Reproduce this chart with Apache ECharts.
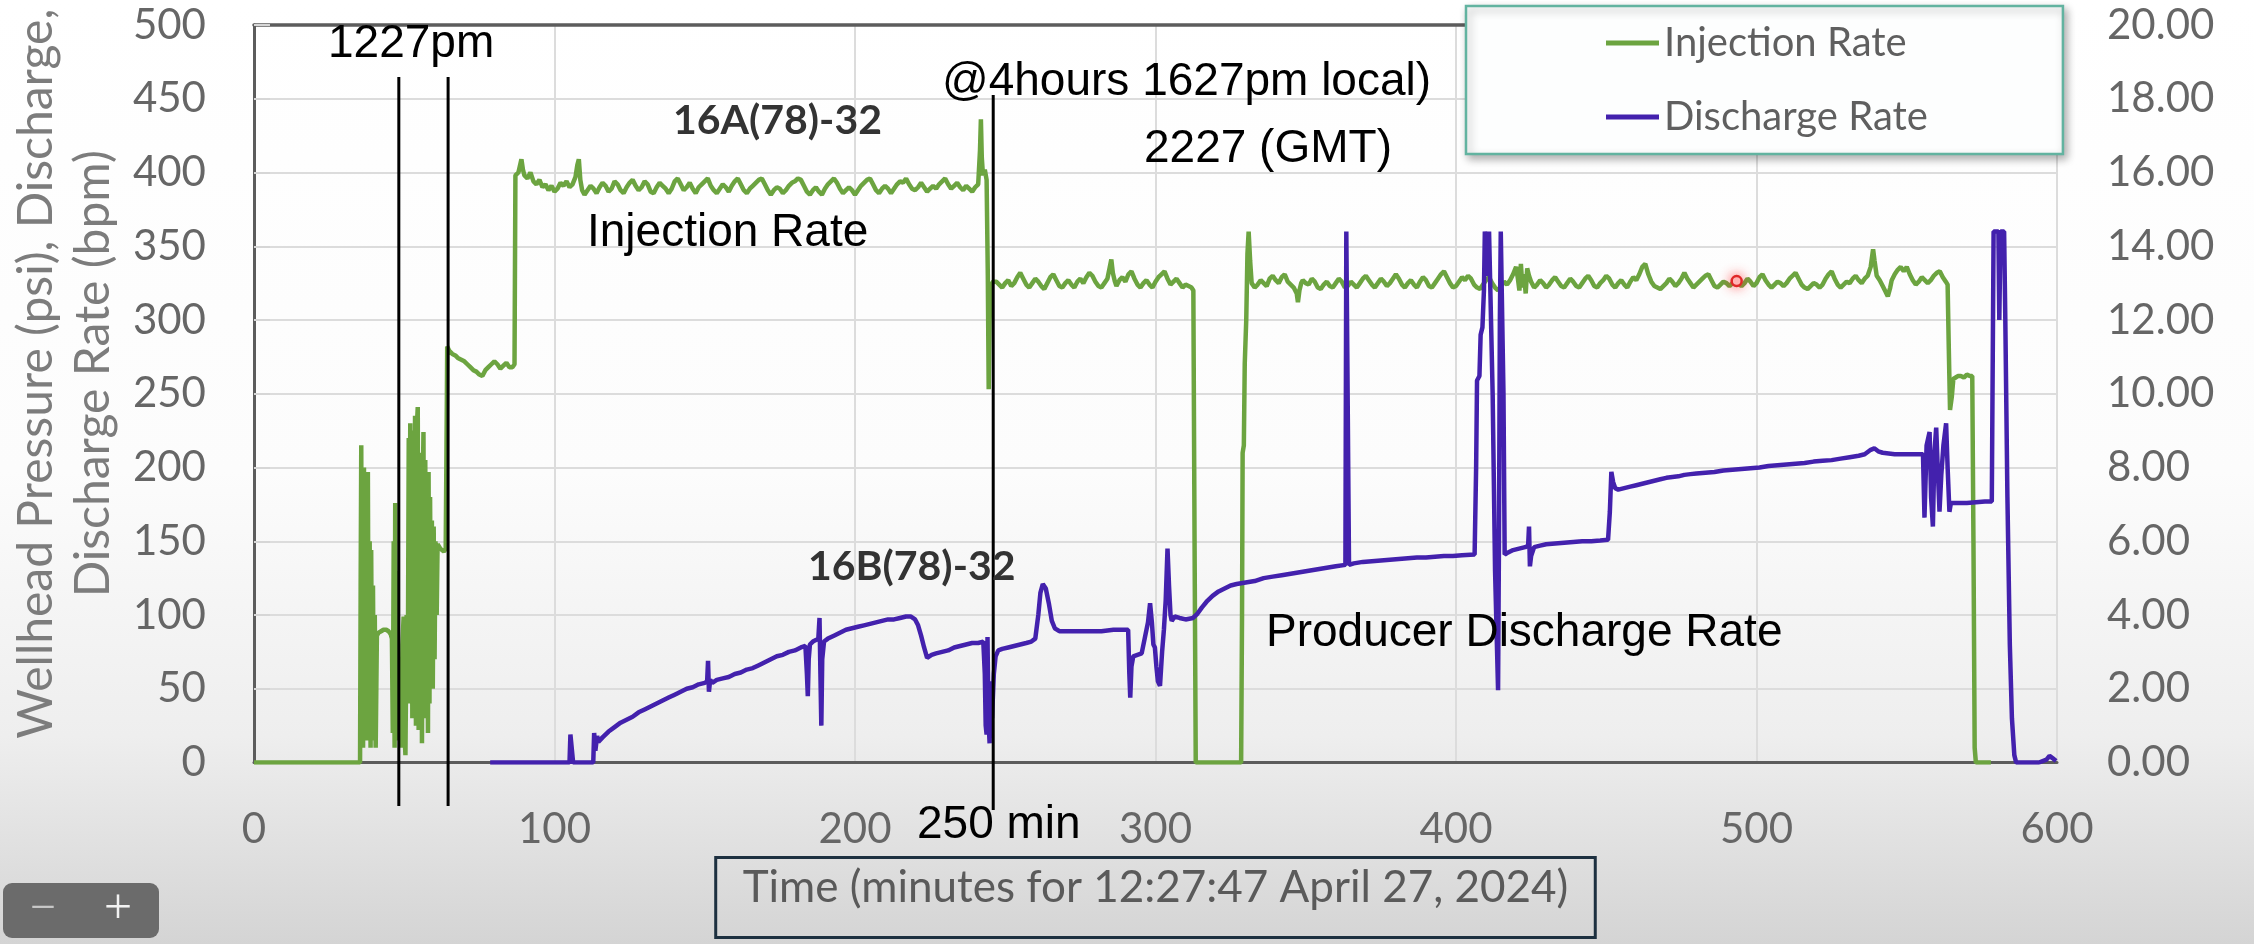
<!DOCTYPE html>
<html><head><meta charset="utf-8">
<script src="https://cdn.jsdelivr.net/npm/echarts@6/dist/echarts.min.js"></script>
<style>html,body{margin:0;padding:0;background:#fff}#c{width:2254px;height:944px}</style>
</head><body><div id="c"></div>
<script>
// ---- data (minutes, rate in left-axis units) ----
const xRange = [0, 600, 100];
const leftRange = [0, 500, 50];
const rightRange = [0, 20, 2];

const injectionRate = [
[0,0],[35.3,0],[35.5,120],[35.7,215],[35.9,40],[36.1,190],[36.3,10],[36.6,200],[36.9,30],[37.2,170],[37.5,15],[37.9,197],[38.2,20],[38.5,150],[38.8,10],[39.0,144],[39.3,30],[39.6,120],[39.9,15],[40.2,100],[40.5,10],[40.9,86],[41.5,88],[42.3,89],[43.1,90],[44.0,90],[44.8,89],[45.5,87],[45.9,84],[46.2,20],[46.5,150],[46.8,10],[47.0,176],[47.3,20],[47.6,130],[48.0,15],[48.5,60],[49.0,10],[49.4,80],[49.8,99],[50.1,20],[50.4,5],[50.8,100],[51.2,60],[51.5,220],[51.7,40],[52.0,230],[52.2,60],[52.4,225],[52.7,30],[53.0,215],[53.3,50],[53.6,235],[53.9,25],[54.2,228],[54.5,241],[54.8,22],[55.1,210],[55.4,40],[55.7,200],[55.9,13],[56.2,190],[56.4,224],[56.7,30],[57.0,205],[57.3,45],[57.6,185],[57.9,20],[58.1,197],[58.4,40],[58.6,180],[58.9,60],[59.2,164],[59.5,50],[59.8,160],[60.1,70],[60.4,150],[60.8,100],[61.1,148],[61.4,147],[62.0,145],[62.5,144],[63.2,143],[63.8,145],[64.1,146],[64.2,250],[64.3,282],
[65,279],[66,277],[67,276],[68,274],[69,273],[70,272],[71,270],[72,268],[73,266],[74,265],[75,263],[76,262],[77,266],[78,268],[79,270],[80,272],[81,270],[82,267],[83,269],[84,271],[85,268],[86,268],[86.7,270],[87,398],[88,400],[89,409],[89.5,402],
[90,398],[91,396],[92,400],[93,394],[94,392],[95,395],[96,390],[97,392],[98,388],[99,391],[100,387],[101,389],[102,393],[103,391],[104,394],[105,390],[106,392],[107,397],[107.6,405],[108.1,409],[108.6,395],[109.2,388],[110,385],[111,388],[112,391],[113,389],[114,386],[115,390],[116,393],[117,391],[118,387],[119,389],[120,394],[121,392],[122,388],[123,386],[124,390],[125,393],[126,395],[127,391],[128,388],[129,390],[130,394],[131,392],[132,387],[133,386],[134,390],[135,393],[136,391],[137,389],[138,386],[139,389],[140,394],[141,396],[142,392],[143,388],[144,390],[145,393],[146,389],[147,386],[148,390],[149,392],[150,394],[151,396],[152,391],[153,388],[154,386],[155,389],[156,392],[157,390],[158,387],[159,391],[160,394],[161,396],[162,392],[163,388],[164,386],[165,389],[166,391],[167,393],[168,395],[169,396],[170,392],[171,388],[172,385],[173,388],[174,390],[175,389],[176,386],[177,388],[178,391],[179,393],[180,394],[181,396],[182,395],[183,391],[184,387],[185,385],[186,388],[187,390],[188,387],[189,385],[190,389],[191,392],[192,394],[193,396],[194,393],[195,389],[196,386],[197,388],[198,390],[199,388],[200,385],[201,388],[202,391],[203,393],[204,395],[205,396],[206,392],[207,388],[208,386],[209,389],[210,391],[211,389],[212,386],[213,389],[214,392],[215,394],[216,393],[217,396],[218,392],[219,389],[220,388],[221,390],[222,393],[223,390],[224,387],[225,389],[226,391],[227,389],[228,392],[229,394],[230,396],[231,392],[232,389],[233,391],[234,393],[235,390],[236,388],[237,391],[238,389],[239,387],[240,390],[241,392],[241.6,415],[241.9,436],[242.2,410],[242.6,398],[243.2,402],[243.8,395],[244.2,330],[244.5,253],[244.8,300],[245.3,324],
[246,326],[247,326],[248,324],[249,322],[250,325],[251,327],[252,323],[253,325],[254,329],[255,332],[256,328],[257,324],[258,322],[259,325],[260,328],[261,326],[262,323],[263,321],[264,325],[265,329],[266,331],[267,327],[268,323],[269,322],[270,325],[271,327],[272,324],[273,322],[274,326],[275,328],[276,325],[277,329],[278,332],[279,330],[280,326],[281,323],[282,322],[283,325],[284,328],[284.8,336],[285.3,341],[285.8,332],[286.5,326],[287,323],[288,327],[289,329],[290,326],[291,331],[292,333],[293,328],[294,324],[295,322],[296,325],[297,327],[298,324],[299,322],[300,326],[301,329],[302,331],[303,333],[304,328],[305,324],[306,326],[307,328],[308,325],[309,322],[310,324],[311,323],[312,322],[312.6,320],[313,150],[313.4,0],
[328.5,0],[328.8,100],[329.0,210],[329.4,215],[329.7,270],[330.2,300],[330.6,345],[331.0,360],[331.5,340],[332.0,325],[333,322],[334,324],[335,327],[336,325],[337,323],[338,328],[339,330],[340,327],[341,325],[342,329],[343,331],[344,326],[345,324],[346,322],[347,318],[347.4,312],[347.9,320],[348.5,325],[349,327],[350,325],[351,324],[352,328],[353,326],[354,322],[355,321],[356,324],[357,326],[358,323],[359,322],[360,325],[361,328],[362,326],[363,322],[364,323],[365,326],[366,324],[367,322],[368,325],[369,328],[370,330],[371,327],[372,324],[373,322],[374,325],[375,328],[376,326],[377,323],[378,325],[379,328],[380,331],[381,328],[382,324],[383,322],[384,325],[385,327],[386,324],[387,322],[388,326],[389,329],[390,327],[391,323],[392,322],[393,325],[394,328],[395,331],[396,333],[397,329],[398,325],[399,322],[400,323],[401,326],[402,329],[403,327],[404,330],[405,328],[406,324],[407,322],[408,321],[409,324],[410,327],[411,329],[412,325],[413,322],[414,320],[415,323],[416,326],[417,324],[418,327],[419,331],[420,336],[420.6,328],[421.1,320],[421.6,338],[422.1,322],[422.6,331],[423.2,318],[423.7,335],[424.3,330],[425,326],[426,322],[427,324],[428,327],[429,325],[430,322],[431,324],[432,327],[433,329],[434,326],[435,323],[436,322],[437,325],[438,328],[439,326],[440,323],[441,322],[442,325],[443,328],[444,330],[445,327],[446,323],[447,322],[448,325],[449,327],[450,330],[451,328],[452,324],[453,322],[454,325],[455,327],[456,324],[457,322],[458,326],[459,329],[460,327],[461,331],[462,336],[463,338],[464,331],[465,326],[466,323],[467,322],[468,321],[469,323],[470,325],[471,328],[472,326],[473,323],[474,325],[475,328],[476,332],[477,328],[478,325],[479,322],[480,324],[481,326],[482,328],[483,330],[484,331],[485,327],[486,323],[487,322],[488,324],[489,326],[490,325],[491,323],[492,325],[493,327],[494,325],[495,323],[496,325],[497,328],[498,326],[499,323],[500,325],[501,329],[502,331],[503,327],[504,324],[505,322],[506,324],[507,326],[508,325],[509,323],[510,325],[511,328],[512,330],[513,332],[514,328],[515,324],[516,322],[517,321],[518,323],[519,325],[520,324],[521,322],[522,324],[523,328],[524,331],[525,333],[526,328],[527,324],[528,322],[529,324],[530,326],[531,325],[532,328],[533,330],[534,327],[535,325],[536,328],[537,330],[538,336],[538.8,348],[539.3,340],[540,330],[541,327],[542,323],[543,319],[543.7,316],[544.5,322],[545,327],[546,331],[547,334],[548,336],[549,333],[550,336],[551,331],[552,327],[553,324],[554,326],[555,329],[556,327],[557,325],[558,327],[559,330],[560,332],[561,333],[562,329],[563,326],[563.6,324],[564,280],[564.4,239],[565,248],[565.5,260],[566,261],[567,262],[568,262],[569,261],[570,263],[571,262],[571.8,262],[572.2,150],[572.6,10],[573,0],[578,0]
];

const dischargeRate = [
[78.6,0],[105,0],[105.3,19],[105.8,19],[106.2,0],[112.9,0],[113.2,20],[113.6,8],[114.2,18],[114.6,14],[116,17],[118,21],[120,24],[122,27],[124,29],[126,31],[128,34],[130,36],[132,38],[134,40],[136,42],[138,44],[140,46],[142,48],[144,50],[146,51],[148,53],[150,54],[150.8,55],[151.1,69],[151.4,48],[151.8,56],[152.5,54],[154,56],[156,57],[158,58],[160,60],[162,61],[164,63],[166,64],[168,66],[170,68],[172,70],[174,72],[176,73],[178,75],[180,76],[182,78],[183.5,79],[184,60],[184.3,45],[184.6,70],[185,80],[186,82],[187,83],[187.8,84],[188.2,98],[188.5,60],[188.8,25],[189.1,70],[189.7,82],[191,84],[193,86],[195,88],[197,90],[199,91],[201,92],[203,93],[205,94],[207,95],[209,96],[211,97],[213,97],[215,98],[217,99],[218.5,99],[220,97],[221,93],[222,86],[223,78],[224,71],[224.5,70],[225.5,73],[227,74],[229,75],[231,76],[233,78],[235,79],[237,80],[239,81],[241,81],[242.7,82],[243.2,60],[243.5,25],[243.8,19],[244.1,85],[244.4,30],[244.8,13],[245.2,55],[245.6,30],[246.2,60],[246.8,72],[247.7,76],[249,77],[251,78],[253,79],[255,80],[257,81],[258.7,82],[260,84],[261,100],[261.7,115],[262.5,121],[263.5,118],[264.5,108],[265.5,96],[266.5,91],[268,89],[270,89],[274,89],[278,89],[282,89],[286,90],[290.9,90],[291.3,60],[291.6,44],[292,65],[292.6,72],[294,73],[295.4,74],[296.5,85],[297.5,95],[298.2,108],[298.8,95],[299.3,80],[299.8,78],[300.3,65],[300.8,55],[301.5,52],[302.2,75],[302.8,90],[303.4,110],[304,145],[304.5,120],[305,100],[305.4,96],[306.4,99],[308,98],[310,97],[312.5,98],[314,101],[315.4,105],[317,109],[319,113],[321,116],[323,118],[325,120],[327,121],[330,122],[333,123],[336,125],[339,126],[342,127],[345,128],[348,129],[351,130],[354,131],[357,132],[360,133],[363.2,134],[363.5,360],[364.1,360],[364.4,134],[366,135],[369,136],[372,136.5],[375,137],[378,137.5],[381,138],[384,138.5],[387,139],[390,139],[393,139.5],[396,140],[399,140],[402,140.5],[406.2,141],[406.7,200],[407.0,259],[407.8,262],[408.2,290],[408.8,295],[409.3,320],[409.6,360],[410.2,360],[410.6,330],[411.0,360],[411.5,360],[412.2,250],[413.0,130],[414.0,49],[414.3,150],[414.6,300],[414.9,360],[415.4,360],[415.8,250],[416.2,141],[417,142],[419,144],[421,145],[423,146],[424.0,147],[424.3,160],[424.6,133],[425,140],[426,146],[428,147],[430,148],[433,148.5],[436,149],[439,149.5],[442,150],[445,150],[448,150.5],[450.6,151],[451.2,170],[451.7,197],[452.3,190],[453,186],[454,185],[456,186],[458,187],[460,188],[462,189],[464,190],[466,191],[468,192],[470,193],[472,193.5],[474,194],[476,195],[478,195.5],[480,196],[483,196.5],[486,197],[489,198],[492,198.5],[495,199],[498,199.5],[501,200],[504,201],[507,201.5],[510,202],[513,202.5],[516,203],[519,204],[522,204.5],[525,205],[528,206],[531,207],[534,208],[536,209],[538,212],[539.2,213],[540.5,211],[542,210],[546,209],[550,209],[555.4,209],[555.9,166],[556.6,215],[557.6,224],[558.1,180],[558.7,160],[559.2,210],[559.8,227],[560.3,200],[560.9,170],[561.5,195],[562.2,215],[563.1,230],[563.6,200],[564.2,170],[564.7,176],[567,176],[570,176],[573,176.5],[576,177],[578.3,177],[578.9,360],[580.5,360],[580.8,300],[581.2,360],[582.4,360],[582.8,300],[583.5,180],[584.3,80],[585,30],[585.8,5],[586.4,0],[590,0],[594,0],[596.5,2],[597.5,4.5],[598.5,3],[599.7,1]
];

const annotationLineMinutes = [48.2, 64.6, 246];
const cursorPoint = [493.4, 326.4];

const chart = echarts.init(document.getElementById('c'), null, {renderer: 'canvas'});
const gray = '#666666';
const option = {
  animation: false,
  backgroundColor: {type: 'linear', x: 0, y: 0, x2: 0, y2: 1, colorStops: [
    {offset: 0, color: '#ffffff'}, {offset: 0.5, color: '#fcfcfc'},
    {offset: 0.78, color: '#eeeeee'}, {offset: 1, color: '#d4d4d4'}]},
  grid: {left: 252, right: 197, top: 25, bottom: 176},
  legend: {
    left: 1466, top: 6, orient: 'vertical',
    padding: [15, 135, 15, 140], itemGap: 30, itemWidth: 53, itemHeight: 5, icon: 'rect',
    backgroundColor: '#fdfefe', borderColor: '#62b3a0', borderWidth: 2.5,
    shadowBlur: 8, shadowColor: 'rgba(0,0,0,0.3)', shadowOffsetX: 3, shadowOffsetY: 4,
    textStyle: {fontFamily: 'Lato', fontSize: 40, color: '#5f5f5f', lineHeight: 44},
    data: ['Injection Rate', 'Discharge Rate']
  },
  xAxis: [{
    type: 'value', min: xRange[0], max: xRange[1], interval: xRange[2],
    name: 'Time (minutes for 12:27:47 April 27, 2024)', nameLocation: 'middle', nameGap: 95,
    nameTextStyle: {fontFamily: 'Lato', fontSize: 44, color: '#5a5a5a', lineHeight: 44,
      borderColor: '#1d3040', borderWidth: 3, padding: [8, 27, 28, 27]},
    axisLine: {show: true, onZero: false, lineStyle: {color: '#5c5c5c', width: 3}},
    axisTick: {show: false},
    axisLabel: {fontFamily: 'Lato', fontSize: 42, color: gray, margin: 46},
    splitLine: {show: true, lineStyle: {color: '#dcdcdc', width: 2}}
  }, {
    type: 'value', min: xRange[0], max: xRange[1], position: 'top',
    axisLine: {show: true, onZero: false, lineStyle: {color: '#5c5c5c', width: 3.5}},
    axisTick: {show: false}, axisLabel: {show: false}, splitLine: {show: false}
  }],
  yAxis: [{
    type: 'value', min: leftRange[0], max: leftRange[1], interval: leftRange[2],
    name: 'Wellhead Pressure (psi), Discharge,\nDischarge Rate (bpm)',
    nameLocation: 'middle', nameGap: 127,
    nameTextStyle: {fontFamily: 'Lato', fontSize: 48, color: '#7c7c7c', lineHeight: 57, padding: [0, 0, 0, 40]},
    axisLine: {show: true, lineStyle: {color: '#5c5c5c', width: 3}},
    axisTick: {show: false},
    axisLabel: {fontFamily: 'Lato', fontSize: 42, color: gray, margin: 48},
    splitLine: {show: true, lineStyle: {color: '#dcdcdc', width: 2}}
  }, {
    type: 'value', min: rightRange[0], max: rightRange[1], interval: rightRange[2], position: 'right',
    axisLine: {show: false},
    axisTick: {show: true, length: 16, lineStyle: {color: '#d6d6d6', width: 2}},
    axisLabel: {fontFamily: 'Lato', fontSize: 42, color: gray, margin: 50, formatter: v => v.toFixed(2)},
    splitLine: {show: false}
  }],
  series: [{
    name: 'Injection Rate', type: 'line', data: injectionRate, showSymbol: false, symbol: 'none',
    color: '#6ca440', lineStyle: {width: 4.5, color: '#6ca440'}, z: 3
  }, {
    name: 'Discharge Rate', type: 'line', data: dischargeRate, showSymbol: false, symbol: 'none',
    color: '#4321ad', lineStyle: {width: 4.5, color: '#4321ad'}, z: 4
  }]
};
chart.setOption(option);

const px = v => chart.convertToPixel({xAxisIndex: 0}, v);
const py = v => chart.convertToPixel({yAxisIndex: 0}, v);
const vTop = [77, 77, 95], vBot = [806, 806, 810];
const black = 'Liberation Sans, Arial, sans-serif';
const txt = (t, x, y, font, fill) => ({type: 'text', x: x, y: y, z: 120,
  style: {text: t, font: font, fill: fill || '#000', align: 'left', verticalAlign: 'middle'}});
const graphics = annotationLineMinutes.map((m, i) => ({
  type: 'line', z: 110,
  shape: {x1: px(m), y1: vTop[i], x2: px(m), y2: vBot[i]},
  style: {stroke: '#000', lineWidth: 3}
}));
graphics.push(
  txt('1227pm', 328, 44, '46px ' + black),
  txt('@4hours 1627pm local)', 942, 82, '46px ' + black),
  txt('2227 (GMT)', 1144, 149, '46px ' + black),
  txt('Injection Rate', 587, 233, '46px ' + black),
  txt('Producer Discharge Rate', 1266, 633, '46px ' + black),
  txt('250 min', 917, 825, '46px ' + black),
  txt('16A(78)-32', 673, 121, 'bold 41px Lato', '#333'),
  txt('16B(78)-32', 808, 567, 'bold 41px Lato', '#333'),
  {type: 'circle', z: 115, shape: {cx: px(cursorPoint[0]), cy: py(cursorPoint[1]), r: 5},
   style: {fill: '#ffd0d0', stroke: '#e02828', lineWidth: 2.5, shadowBlur: 12, shadowColor: 'rgba(255,40,40,0.7)'}},
  {type: 'rect', z: 115, shape: {x: 3, y: 883, width: 156, height: 55, r: 9}, style: {fill: '#6b6b6b'}},
  {type: 'text', z: 116, x: 43, y: 910, style: {text: '\u2212', font: '300 46px "Noto Sans"', fill: '#c8c8c8', align: 'center', verticalAlign: 'middle'}},
  {type: 'text', z: 116, x: 118, y: 910, style: {text: '+', font: '300 50px "Noto Sans"', fill: '#f2f2f2', align: 'center', verticalAlign: 'middle'}}
);
chart.setOption({graphic: graphics});
</script>
</body></html>
